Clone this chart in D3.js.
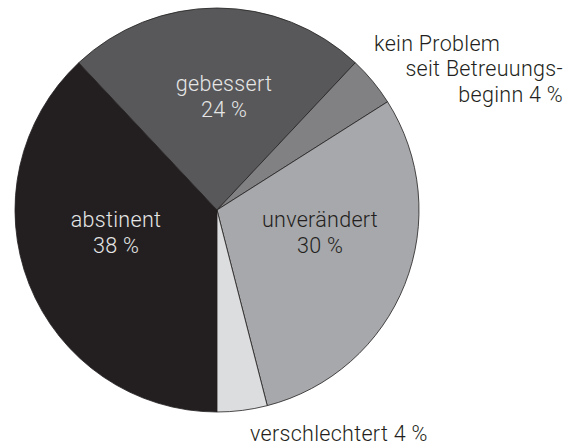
<!DOCTYPE html>
<html>
  <head>
    <meta charset="utf-8">
    <title>Pie</title>
    <script src="https://d3js.org/d3.v7.min.js"></script>
    <style>
      body { margin: 0; background: #fff; }
      text { font-family: Roboto, "Liberation Sans", sans-serif; font-weight: 300; font-size: 21.5px; letter-spacing: 0.3px; }
    </style>
  </head>

  <body>
    <script>
      var categories = ["abstinent", "gebessert", "kein Problem", "unverändert", "verschlechtert"];
      var values = [38, 24, 4, 30, 4];
      var colors = ["#231f20", "#58585a", "#818184", "#a7a8ab", "#dcdddf"];

      // label text lines, one entry per category
      var labelLines = [
        ["abstinent", "38 %"],
        ["gebessert", "24 %"],
        ["kein Problem", "seit Betreuungs-", "beginn 4 %"],
        ["unverändert", "30 %"],
        ["verschlechtert 4 %"]
      ];

      var width = 580, height = 446;
      var cx = 217, cy = 210, radius = 202;

      var svg = d3.select("body")
        .append("svg")
          .attr("width", width)
          .attr("height", height);

      var pie = d3.pie()
          .sort(null)
          .startAngle(Math.PI)
          .endAngle(3 * Math.PI);

      var arc = d3.arc()
          .innerRadius(0)
          .outerRadius(radius);

      var data = categories.map((c, i) => ({name: c, value: values[i], color: colors[i]}));

      var g = svg.append("g")
          .attr("transform", "translate(" + cx + "," + cy + ")");

      g.selectAll("path")
        .data(pie.value(d => d.value)(data))
        .enter()
        .append("path")
          .attr("d", arc)
          .style("fill", d => d.data.color)
          .style("stroke", "#231f20")
          .style("stroke-width", 0.8);

      // label placement (absolute, in page coords)
      var labelPos = [
        {x: 116, y: 227, anchor: "middle", fill: "#e6e6e6"},
        {x: 224, y: 91, anchor: "middle", fill: "#e6e6e6"},
        {x: 563, y: 50.5, anchor: "end", fill: "#231f20"},
        {x: 320, y: 227, anchor: "middle", fill: "#231f20"},
        {x: 250, y: 441, anchor: "start", fill: "#231f20"}
      ];

      labelLines.forEach((lines, i) => {
        var p = labelPos[i];
        var t = svg.append("text")
            .style("fill", p.fill);
        lines.forEach((line, j) => {
          // first line of the outside label sits further left
          var first = (i == 2 && j == 0);
          t.append("tspan")
            .attr("x", first ? 374 : p.x)
            .attr("y", p.y + j * 25.5)
            .attr("text-anchor", first ? "start" : p.anchor)
            .text(line);
        });
      });
    </script>
  </body>
</html>
